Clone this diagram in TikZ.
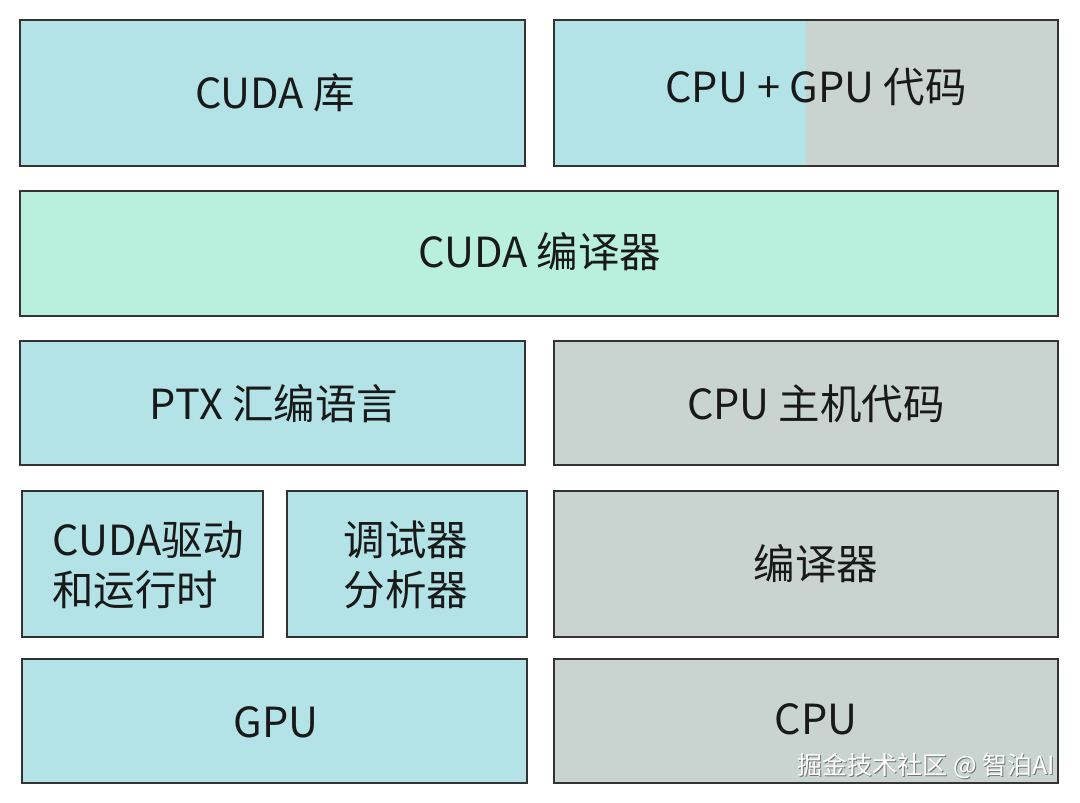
\documentclass[tikz,border=0pt]{standalone}
\usepackage{fontspec}
\setmainfont{Noto Sans CJK SC}
\begin{document}
\begin{tikzpicture}[x=1pt,y=-1pt,
  blk/.style={draw=black!80,line width=1.8pt},
  lbl/.style={font=\fontsize{41.5}{50}\selectfont,text=black!90,align=center,inner sep=0pt}]
\definecolor{cy}{HTML}{B3E3E6}
\definecolor{gy}{HTML}{C9D4D0}
\definecolor{gr}{HTML}{B8F0DD}
\useasboundingbox (0,0) rectangle (1080,803);
\fill[white] (0,0) rectangle (1080,803);
% row 1
\draw[blk,fill=cy] (20,20) rectangle (525,166);
\node[lbl] (lib) at (275,93) {CUDA 库};
\fill[cy] (554,20) rectangle (806,166);
\fill[gy] (806,20) rectangle (1058,166);
\draw[blk] (554,20) rectangle (1058,166);
\node[lbl] (code) at (816,87) {CPU + GPU 代码};
% row 2
\draw[blk,fill=gr] (20,191) rectangle (1058,316);
\node[lbl] (nvcc) at (540,252) {CUDA 编译器};
% row 3
\draw[blk,fill=cy] (20,341) rectangle (525,465);
\node[lbl] (ptx) at (274,404) {PTX 汇编语言};
\draw[blk,fill=gy] (554,341) rectangle (1058,465);
\node[lbl] (host) at (816,404) {CPU 主机代码};
% row 4
\draw[blk,fill=cy] (22,491) rectangle (263,637);
\node[lbl,align=left,anchor=west] (drv) at (52,565) {CUDA驱动\\和运行时};
\draw[blk,fill=cy] (287,491) rectangle (527,637);
\node[lbl] (dbg) at (406,565) {调试器\\分析器};
\draw[blk,fill=gy] (554,491) rectangle (1058,637);
\node[lbl] (comp) at (816,564) {编译器};
% row 5
\draw[blk,fill=cy] (22,659) rectangle (527,783);
\node[lbl] (gpu) at (276,722) {GPU};
\draw[blk,fill=gy] (554,659) rectangle (1058,783);
\node[lbl] (cpu) at (816,719) {CPU};
% watermark
\node[font=\fontsize{25}{30}\selectfont,text=black!55,inner sep=0pt,anchor=east] at (1056.5,767.5) {掘金技术社区 @ 智泊AI};
\node[font=\fontsize{25}{30}\selectfont,text=white,inner sep=0pt,anchor=east] (wm) at (1055,766) {掘金技术社区 @ 智泊AI};
\end{tikzpicture}
\end{document}
